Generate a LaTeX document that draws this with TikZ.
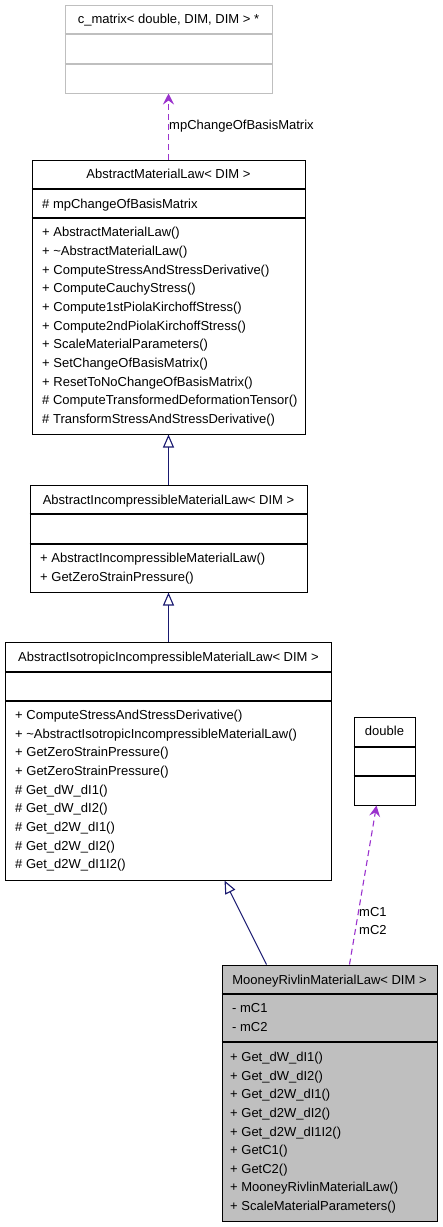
\documentclass[tikz,border=0pt]{standalone}
\usepackage{fontspec}
\setmainfont{Liberation Sans}
\usetikzlibrary{arrows.meta}
\definecolor{inh}{HTML}{191970}
\definecolor{usec}{HTML}{9A32CD}
\definecolor{lgray}{HTML}{BFBFBF}
\begin{document}
\begin{tikzpicture}[x=1pt,y=-1pt,font=\fontsize{13}{15}\selectfont,
  classbox/.style={draw=black,line width=1pt,fill=white,rectangle,inner sep=0pt},
  member/.style={anchor=mid west,inner sep=0pt,yshift=-2pt},
  title/.style={anchor=mid,inner sep=0pt,yshift=-2pt},
  sep/.style={draw=black,line width=1.1pt},
  inherit/.style={draw=inh,line width=1.1pt,-{Triangle[open,length=13pt,width=11pt,fill=white]}},
  usage/.style={draw=usec,line width=1.1pt,dash pattern=on 6pt off 4pt,-{Stealth[length=11pt,width=11pt,inset=4pt]}},
  uselabel/.style={anchor=mid west,inner sep=0pt,yshift=-2pt}]
\useasboundingbox (0,0) rectangle (443,1227);

% c_matrix
\node[classbox,draw=lgray,minimum width=207pt,minimum height=88pt] (cm) at (168.5,49) {};
\draw[sep,draw=lgray] (cm.west |- 0,34) -- (cm.east |- 0,34);
\draw[sep,draw=lgray] (cm.west |- 0,64) -- (cm.east |- 0,64);
\node[title] (cm-t) at (cm.north |- 0,19) {c\_matrix< double, DIM, DIM > *};

% AbstractMaterialLaw
\node[classbox,minimum width=273pt,minimum height=274pt] (aml) at (168.5,297) {};
\draw[sep] (aml.west |- 0,189) -- (aml.east |- 0,189);
\draw[sep] (aml.west |- 0,218) -- (aml.east |- 0,218);
\node[title] (aml-t) at (aml.north |- 0,174) {AbstractMaterialLaw< DIM >};
\node[member] (aml-a1) at (42,203.5) {\# mpChangeOfBasisMatrix};
\foreach \t [count=\i from 0] in {
  + AbstractMaterialLaw(),
  + \textasciitilde AbstractMaterialLaw(),
  + ComputeStressAndStressDerivative(),
  + ComputeCauchyStress(),
  + Compute1stPiolaKirchoffStress(),
  + Compute2ndPiolaKirchoffStress(),
  + ScaleMaterialParameters(),
  + SetChangeOfBasisMatrix(),
  + ResetToNoChangeOfBasisMatrix(),
  \# ComputeTransformedDeformationTensor(),
  \# TransformStressAndStressDerivative()}
  {\node[member] (aml-m\i) at (42,232+18.7*\i) {\t};}

% AbstractIncompressibleMaterialLaw
\node[classbox,minimum width=277pt,minimum height=107pt] (aim) at (168.5,538.5) {};
\draw[sep] (aim.west |- 0,514) -- (aim.east |- 0,514);
\draw[sep] (aim.west |- 0,544) -- (aim.east |- 0,544);
\node[title] (aim-t) at (aim.north |- 0,499.5) {AbstractIncompressibleMaterialLaw< DIM >};
\node[member] (aim-m0) at (40,557.5) {+ AbstractIncompressibleMaterialLaw()};
\node[member] (aim-m1) at (40,576.5) {+ GetZeroStrainPressure()};

% AbstractIsotropicIncompressibleMaterialLaw
\node[classbox,minimum width=326pt,minimum height=238pt] (aii) at (168.5,761) {};
\draw[sep] (aii.west |- 0,672) -- (aii.east |- 0,672);
\draw[sep] (aii.west |- 0,701) -- (aii.east |- 0,701);
\node[title] (aii-t) at (aii.north |- 0,657) {AbstractIsotropicIncompressibleMaterialLaw< DIM >};
\foreach \t [count=\i from 0] in {
  + ComputeStressAndStressDerivative(),
  + \textasciitilde AbstractIsotropicIncompressibleMaterialLaw(),
  + GetZeroStrainPressure(),
  + GetZeroStrainPressure(),
  \# Get\_dW\_dI1(),
  \# Get\_dW\_dI2(),
  \# Get\_d2W\_dI1(),
  \# Get\_d2W\_dI2(),
  \# Get\_d2W\_dI1I2()}
  {\node[member] (aii-m\i) at (15,715+18.65*\i) {\t};}

% double
\node[classbox,minimum width=61pt,minimum height=88pt] (dbl) at (384.5,761) {};
\draw[sep] (dbl.west |- 0,747) -- (dbl.east |- 0,747);
\draw[sep] (dbl.west |- 0,776) -- (dbl.east |- 0,776);
\node[title] (dbl-t) at (dbl.north |- 0,731) {double};

% MooneyRivlinMaterialLaw
\node[classbox,fill=lgray,minimum width=215pt,minimum height=256pt] (mr) at (329.5,1093) {};
\draw[sep] (mr.west |- 0,994) -- (mr.east |- 0,994);
\draw[sep] (mr.west |- 0,1042) -- (mr.east |- 0,1042);
\node[title] (mr-t) at (mr.north |- 0,980) {MooneyRivlinMaterialLaw< DIM >};
\node[member] (mr-a1) at (232,1008) {- mC1};
\node[member] (mr-a2) at (232,1027) {- mC2};
\foreach \t [count=\i from 0] in {
  + Get\_dW\_dI1(),
  + Get\_dW\_dI2(),
  + Get\_d2W\_dI1(),
  + Get\_d2W\_dI2(),
  + Get\_d2W\_dI1I2(),
  + GetC1(),
  + GetC2(),
  + MooneyRivlinMaterialLaw(),
  + ScaleMaterialParameters()}
  {\node[member] (mr-m\i) at (230,1057+18.6*\i) {\t};}

% connectors
\draw[usage] (aml.north) -- (cm.south);
\node[uselabel] (lbl-cob) at (169,125) {mpChangeOfBasisMatrix};
\draw[inherit] (aim.north) -- (aml.south);
\draw[inherit] (aii.north) -- (aim.south);
\draw[inherit] ([xshift=45pt]mr.north west) -- ([xshift=219.5pt]aii.south west);
\draw[usage] ([xshift=128pt]mr.north west) -- ([xshift=23pt]dbl.south west);
\node[uselabel] (lbl-c1) at (359,912) {mC1};
\node[uselabel] (lbl-c2) at (359,930) {mC2};
\end{tikzpicture}
\end{document}
